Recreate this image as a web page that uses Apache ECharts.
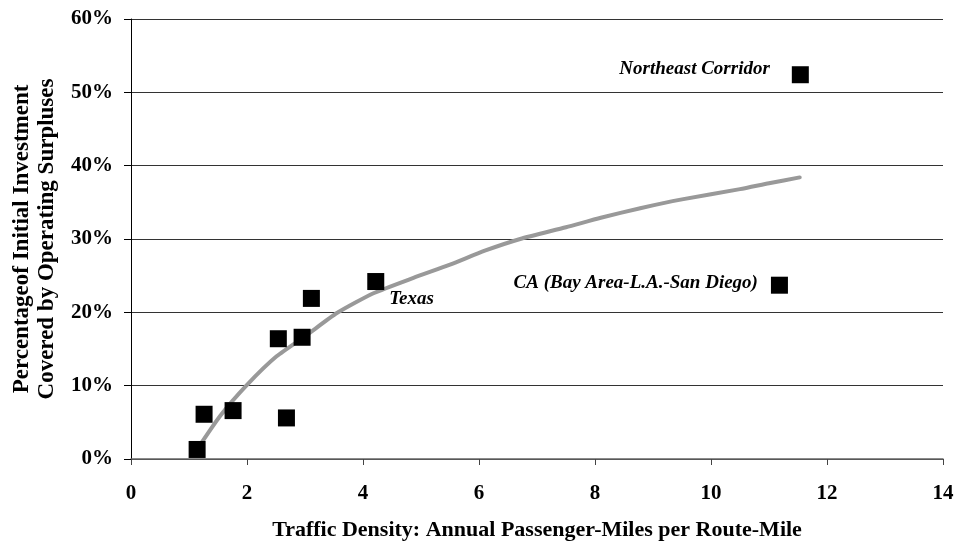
<!DOCTYPE html>
<html>
<head>
<meta charset="utf-8">
<script src="https://cdn.jsdelivr.net/npm/echarts@6/dist/echarts.min.js"></script>
<style>html,body{margin:0;padding:0;background:#fff}#c{width:956px;height:542px}</style>
</head>
<body>
<div id="c"></div>
<script>
// Data
const densityX = [1.14, 1.26, 1.76, 2.54, 2.68, 2.95, 3.11, 4.22, 11.18, 11.54];
const coverageY = [1.3, 6.1, 6.6, 16.4, 5.6, 16.6, 21.9, 24.2, 23.7, 52.4];
const pointNames = ['', '', '', '', '', '', '', 'Texas', 'CA (Bay Area-L.A.-San Diego)', 'Northeast Corridor'];
// Trend curve
const trendX = [1.13, 1.53, 2.0, 2.51, 3.03, 3.55, 4.18, 4.87, 5.5, 6.1, 6.71, 7.5, 8.1, 8.78, 9.5, 10.5, 11.0, 11.53];
const trendY = [1.2, 5.8, 10.1, 14.0, 16.9, 19.9, 22.6, 24.7, 26.5, 28.4, 30.0, 31.6, 32.9, 34.2, 35.4, 36.8, 37.6, 38.4];
const xTicks = [0, 2, 4, 6, 8, 10, 12, 14];
const yTicks = [0, 10, 20, 30, 40, 50, 60];

const serif = '"Liberation Serif", "Times New Roman", serif';
const labelStyles = {
  'Texas': {position: 'right', distance: 5, offset: [0, 18]},
  'CA (Bay Area-L.A.-San Diego)': {position: 'left', distance: 13, offset: [0, -2]},
  'Northeast Corridor': {position: 'left', distance: 22, offset: [0, -6]}
};
const scatterData = densityX.map((x, i) => {
  const name = pointNames[i];
  const item = {value: [x, coverageY[i]]};
  if (name) {
    item.label = Object.assign({
      show: true, formatter: name, color: '#000',
      fontFamily: serif, fontWeight: 'bold', fontStyle: 'italic', fontSize: 19
    }, labelStyles[name]);
  }
  return item;
});

const chart = echarts.init(document.getElementById('c'));
chart.setOption({
  animation: false,
  backgroundColor: '#fff',
  grid: {left: 131, right: 13, top: 19, bottom: 83, containLabel: false, outerBoundsMode: 'none'},
  xAxis: {
    type: 'value', min: xTicks[0], max: xTicks[xTicks.length - 1], interval: 2,
    name: 'Traffic Density: Annual Passenger-Miles per Route-Mile',
    nameLocation: 'middle', nameGap: 60,
    nameTextStyle: {fontFamily: serif, fontWeight: 'bold', fontSize: 22, color: '#000'},
    axisLine: {lineStyle: {color: '#666', width: 1.5}},
    axisTick: {show: true, length: 6, lineStyle: {color: '#444'}},
    axisLabel: {fontFamily: serif, fontWeight: 'bold', fontSize: 21, color: '#000', margin: 24},
    splitLine: {show: false}
  },
  yAxis: {
    type: 'value', min: yTicks[0], max: yTicks[yTicks.length - 1], interval: 10,
    name: 'Percentageof Initial Investment\nCovered by Operating Surpluses',
    nameLocation: 'middle', nameGap: 71,
    nameTextStyle: {fontFamily: serif, fontWeight: 'bold', fontSize: 23, color: '#000', lineHeight: 25},
    axisLine: {show: true, lineStyle: {color: '#000', width: 1}},
    axisTick: {show: true, length: 7, lineStyle: {color: '#000'}},
    axisLabel: {fontFamily: serif, fontWeight: 'bold', fontSize: 21, color: '#000', margin: 18,
      formatter: v => v + '%'},
    splitLine: {show: true, lineStyle: {color: '#333', width: 1}}
  },
  series: [
    {
      type: 'line', data: trendX.map((x, i) => [x, trendY[i]]),
      smooth: 0.2, showSymbol: false, symbol: 'none',
      lineStyle: {color: '#999', width: 4, cap: 'round', join: 'round'}, z: 2
    },
    {
      type: 'scatter', data: scatterData, symbol: 'rect', symbolSize: 17,
      itemStyle: {color: '#000', opacity: 1}, z: 3
    }
  ]
});
</script>
</body>
</html>
